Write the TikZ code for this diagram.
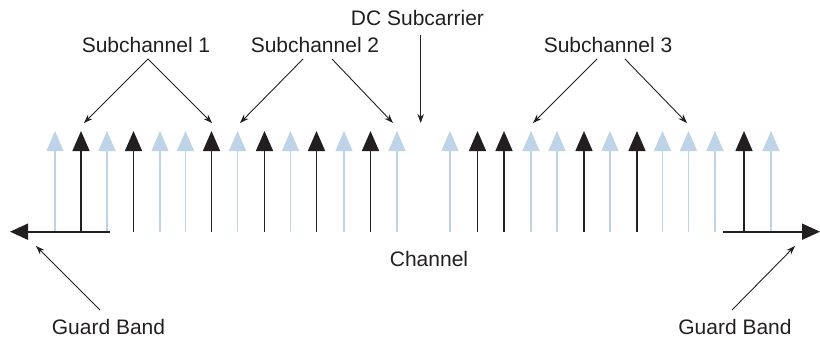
\documentclass[tikz,border=0pt]{standalone}
\usepackage{fontspec}
\setmainfont{Liberation Sans}
\usetikzlibrary{arrows.meta}
\definecolor{lightc}{RGB}{190,210,232}
\definecolor{darkc}{RGB}{35,31,32}
\begin{document}
\begin{tikzpicture}[x=0.5pt,y=-0.5pt,
  lbl/.style={inner sep=0pt,font=\fontsize{10.5pt}{12pt}\selectfont,text=darkc},
  carrier/.style={line width=0.75pt,-{Triangle[width=8.5pt,length=10pt]}},
  lcar/.style={carrier,draw=lightc},
  dcar/.style={carrier,draw=darkc},
  pointer/.style={draw=darkc,line width=0.45pt,-{Stealth[length=4.5pt,width=3.2pt]}},
  axisarrow/.style={draw=darkc,line width=0.9pt,-{Triangle[width=8pt,length=9pt]}}]
\useasboundingbox (0,0) rectangle (820,337);
% subcarriers
\foreach \x in {55,107,160,185.5,237.5,290.5,344,397,450,531,557,610,662.5,688.5,715,771}
  \draw[lcar] (\x,232) -- (\x,131);
\foreach \x in {81,133.5,211.5,264.5,316.5,370.5,477.5,504,584,637,744}
  \draw[dcar] (\x,232) -- (\x,131);
% channel axis with guard bands
\coordinate (la) at (110,231.7);
\coordinate (lt) at (10,231.7);
\coordinate (ra) at (723,231.7);
\coordinate (rt) at (820,231.7);
\draw[axisarrow] (la) -- (lt);
\draw[axisarrow] (ra) -- (rt);
% labels
\node[lbl] (dc) at (417.5,18) {DC Subcarrier};
\node[lbl] (s1) at (146,45) {Subchannel 1};
\node[lbl] (s2) at (315,45) {Subchannel 2};
\node[lbl] (s3) at (608,45) {Subchannel 3};
\node[lbl] (ch) at (429,259) {Channel};
\node[lbl] (g1) at (108.5,327) {Guard Band};
\node[lbl] (g2) at (735,327) {Guard Band};
% pointer end points
\coordinate (dcs) at (420.7,35);
\coordinate (dce) at (420.7,123);
\coordinate (s1s) at (148,59);
\coordinate (s1a) at (84,123);
\coordinate (s1b) at (212,123);
\coordinate (s2s1) at (303,59);
\coordinate (s2s2) at (332,59);
\coordinate (s2a) at (240,123);
\coordinate (s2b) at (393,123);
\coordinate (s3s1) at (597,59);
\coordinate (s3s2) at (625,59);
\coordinate (s3a) at (533,123);
\coordinate (s3b) at (687,123);
\coordinate (g1s) at (100,310);
\coordinate (g1e) at (36,246);
\coordinate (g2s) at (732,310);
\coordinate (g2e) at (795,246);
\draw[pointer] (dcs) -- (dce);
\draw[pointer] (s1s) -- (s1a);
\draw[pointer] (s1s) -- (s1b);
\draw[pointer] (s2s1) -- (s2a);
\draw[pointer] (s2s2) -- (s2b);
\draw[pointer] (s3s1) -- (s3a);
\draw[pointer] (s3s2) -- (s3b);
\draw[pointer] (g1s) -- (g1e);
\draw[pointer] (g2s) -- (g2e);
\end{tikzpicture}
\end{document}
